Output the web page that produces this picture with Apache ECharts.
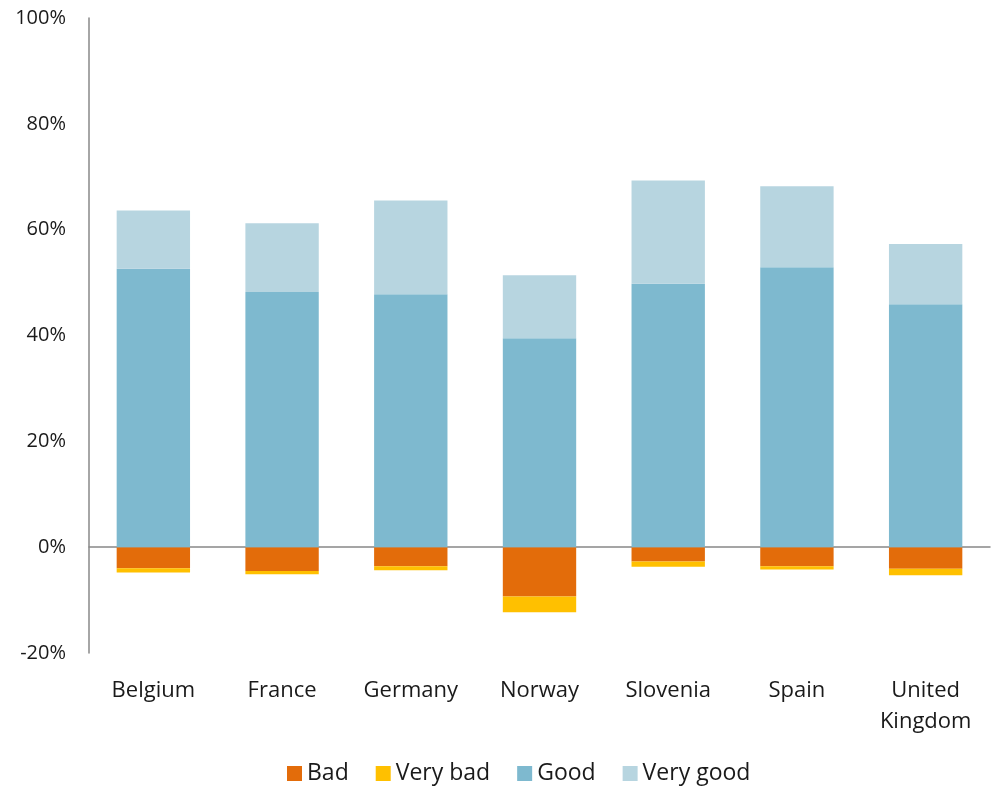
<!DOCTYPE html>
<html>
<head>
<meta charset="utf-8">
<script src="https://cdn.jsdelivr.net/npm/echarts@6/dist/echarts.min.js"></script>
<style>
  html, body { margin: 0; padding: 0; background: #fff; }
  #chart { width: 994px; height: 790px; }
</style>
</head>
<body>
<div id="chart"></div>
<script>
const countries = ['Belgium', 'France', 'Germany', 'Norway', 'Slovenia', 'Spain', 'United\nKingdom']
// percentages
const bad = [-4.0, -4.5, -3.6, -9.3, -2.7, -3.6, -4.1]
const veryBad = [-0.8, -0.6, -0.75, -3.0, -1.0, -0.6, -1.2]
const good = [52.6, 48.2, 47.8, 39.5, 49.8, 52.9, 45.9]
const veryGood = [11.0, 13.0, 17.7, 11.9, 19.5, 15.3, 11.4]

const chart = echarts.init(document.getElementById('chart'))
const font = '"Open Sans", "Noto Sans", sans-serif'

function bar(name, values, color) {
  return {
    name: name,
    type: 'bar',
    stack: 'all',
    data: values,
    barWidth: '57%',
    itemStyle: { color: color },
    emphasis: { disabled: true }
  }
}

const option = {
  animation: false,
  textStyle: { fontFamily: font },
  grid: { left: 89, right: 4, top: 18, bottom: 137 },
  legend: {
    bottom: 0,
    left: 282,
    itemWidth: 15,
    itemHeight: 15,
    itemGap: 27,
    icon: 'rect',
    textStyle: { fontSize: 23, color: '#1a1a1a', fontFamily: font },
    data: ['Bad', 'Very bad', 'Good', 'Very good']
  },
  xAxis: [
    {
      type: 'category',
      data: countries,
      position: 'bottom',
      axisLine: { show: false, onZero: false },
      axisTick: { show: false },
      axisLabel: { fontSize: 22, color: '#1a1a1a', margin: 22, lineHeight: 31, interval: 0 }
    },
    {
      type: 'category',
      data: countries,
      position: 'bottom',
      axisLine: { show: true, onZero: true, lineStyle: { color: '#888', width: 1.5 } },
      axisTick: { show: false },
      axisLabel: { show: false }
    }
  ],
  yAxis: {
    type: 'value',
    min: -20,
    max: 100,
    interval: 20,
    axisLine: { show: true, lineStyle: { color: '#888', width: 1.5 } },
    axisTick: { show: false },
    splitLine: { show: false },
    axisLabel: { fontSize: 20, color: '#1a1a1a', margin: 23, formatter: '{value}%' }
  },
  series: [
    bar('Bad', bad, '#E36C0A'),
    bar('Very bad', veryBad, '#FFC000'),
    bar('Good', good, '#7EB9CF'),
    bar('Very good', veryGood, '#B7D5E0')
  ]
}
chart.setOption(option)
</script>
</body>
</html>
